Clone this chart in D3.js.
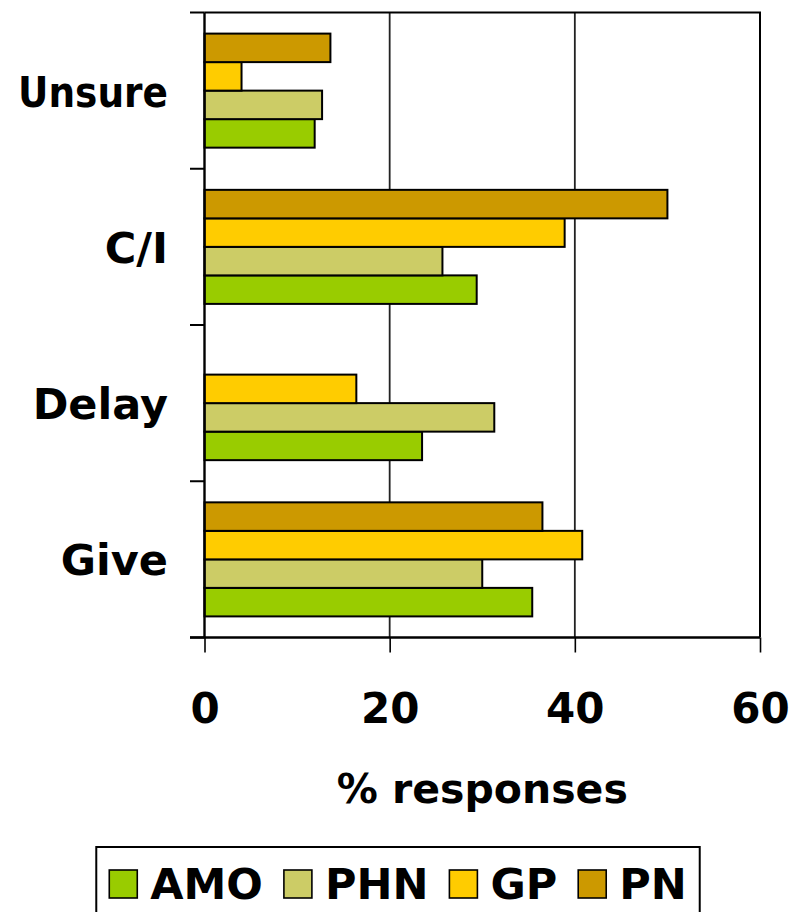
<!DOCTYPE html>
<html>
<head>
<meta charset="utf-8">
<script src="https://cdn.jsdelivr.net/npm/d3@7"></script>
<style>
  html, body { margin: 0; padding: 0; background: #fff; }
  svg { display: block; }
  text { font-family: "DejaVu Sans", Verdana, sans-serif; font-weight: bold; fill: #000; }
</style>
</head>
<body>
<svg id="chart" width="790" height="912"></svg>
<script>
// Responses by category (percent), one array per professional group
const categories = ["Unsure", "C/I", "Delay", "Give"];
const seriesNames = ["AMO", "PHN", "GP", "PN"];
const amo = [11.9, 29.4, 23.5, 35.4];
const phn = [12.7, 25.7, 31.3, 30.0];
const gp  = [4.0, 38.9, 16.4, 40.8];
const pn  = [13.6, 50.0, 0, 36.5];
const xTicks = [0, 20, 40, 60];
const xTitle = "% responses";
const colors = ["#99CC00", "#CCCC66", "#FFCC00", "#CC9900"];

const seriesValues = [amo, phn, gp, pn];

const svg = d3.select("#chart");
const plot = { left: 204.5, right: 760, top: 12.5, bottom: 637.5 };

const x = d3.scaleLinear().domain([0, 60]).range([plot.left, plot.right]);
const y = d3.scaleBand().domain(categories).range([plot.top, plot.bottom]);
// within each category the bars run PN, GP, PHN, AMO from top to bottom
const yInner = d3.scaleBand()
  .domain(seriesNames.slice().reverse())
  .range([0, y.bandwidth()])
  .paddingInner(0)
  .paddingOuter(0.74);
const color = d3.scaleOrdinal().domain(seriesNames).range(colors);

// vertical gridlines
svg.append("g")
  .selectAll("line")
  .data(xTicks.filter(t => t > 0 && t < 60))
  .join("line")
  .attr("x1", d => x(d)).attr("x2", d => x(d))
  .attr("y1", plot.top).attr("y2", plot.bottom)
  .attr("stroke", "#222").attr("stroke-width", 1.8);

// plot border on top and right
svg.append("path")
  .attr("d", `M${plot.left},${plot.top}H${plot.right}V${plot.bottom}`)
  .attr("fill", "none").attr("stroke", "#000").attr("stroke-width", 2);

// bars
const rows = [];
categories.forEach((c, i) => {
  seriesNames.forEach((s, j) => rows.push({ cat: c, series: s, value: seriesValues[j][i] }));
});
svg.append("g")
  .selectAll("rect")
  .data(rows.filter(d => d.value > 0))
  .join("rect")
  .attr("x", x(0))
  .attr("y", d => y(d.cat) + yInner(d.series))
  .attr("width", d => x(d.value) - x(0))
  .attr("height", yInner.bandwidth())
  .attr("fill", d => color(d.series))
  .attr("stroke", "#000")
  .attr("stroke-width", 2);

// x axis
const xAxis = svg.append("g")
  .attr("transform", `translate(0,${plot.bottom})`)
  .call(d3.axisBottom(x).tickValues(xTicks).tickSize(15).tickPadding(18).tickSizeOuter(0));
xAxis.select(".domain").remove();
xAxis.selectAll(".tick line").attr("stroke", "#000").attr("stroke-width", 1.6);
xAxis.selectAll(".tick text")
  .style("font-size", "42px")
  .attr("dy", null)
  .attr("y", 85);
svg.append("line")
  .attr("x1", 190).attr("x2", plot.right)
  .attr("y1", plot.bottom).attr("y2", plot.bottom)
  .attr("stroke", "#000").attr("stroke-width", 2.4);

// y axis with ticks between categories
const boundaries = categories.map(c => y(c)).concat([plot.bottom]);
svg.append("g")
  .selectAll("line")
  .data(boundaries)
  .join("line")
  .attr("x1", 190).attr("x2", plot.left)
  .attr("y1", d => d).attr("y2", d => d)
  .attr("stroke", "#000").attr("stroke-width", 2);
svg.append("line")
  .attr("x1", plot.left).attr("x2", plot.left)
  .attr("y1", plot.top).attr("y2", plot.bottom)
  .attr("stroke", "#000").attr("stroke-width", 2.4);

// category labels, narrowed where they would run past the left margin
const labelRight = 168, labelMaxW = 150;
svg.append("g")
  .selectAll("text")
  .data(categories)
  .join("text")
  .attr("x", labelRight)
  .attr("y", d => y(d) + y.bandwidth() / 2 + 16)
  .attr("text-anchor", "end")
  .style("font-size", "43px")
  .text(d => d)
  .each(function () {
    if (this.getComputedTextLength() > labelMaxW) {
      d3.select(this).attr("textLength", labelMaxW).attr("lengthAdjust", "spacingAndGlyphs");
    }
  });

// axis title
svg.append("text")
  .attr("x", (plot.left + plot.right) / 2)
  .attr("y", 803)
  .attr("text-anchor", "middle")
  .style("font-size", "41px")
  .text(xTitle);

// legend
const legend = svg.append("g");
const box = legend.append("rect")
  .attr("fill", "#fff").attr("stroke", "#000").attr("stroke-width", 2);
let cursor = 0;
const swatch = 28, gapText = 13, gapItem = 21;
seriesNames.forEach(s => {
  legend.append("rect")
    .attr("x", cursor).attr("y", 870)
    .attr("width", swatch).attr("height", swatch)
    .attr("fill", color(s)).attr("stroke", "#000").attr("stroke-width", 1.6);
  const t = legend.append("text")
    .attr("x", cursor + swatch + gapText)
    .attr("y", 899)
    .style("font-size", "43px")
    .text(s);
  cursor += swatch + gapText + t.node().getComputedTextLength() + gapItem;
});
const contentW = cursor - gapItem;
const pad = 13;
box.attr("x", -pad).attr("y", 847).attr("width", contentW + 2 * pad).attr("height", 80);
legend.attr("transform", `translate(${398 - contentW / 2},0)`);
</script>
</body>
</html>
